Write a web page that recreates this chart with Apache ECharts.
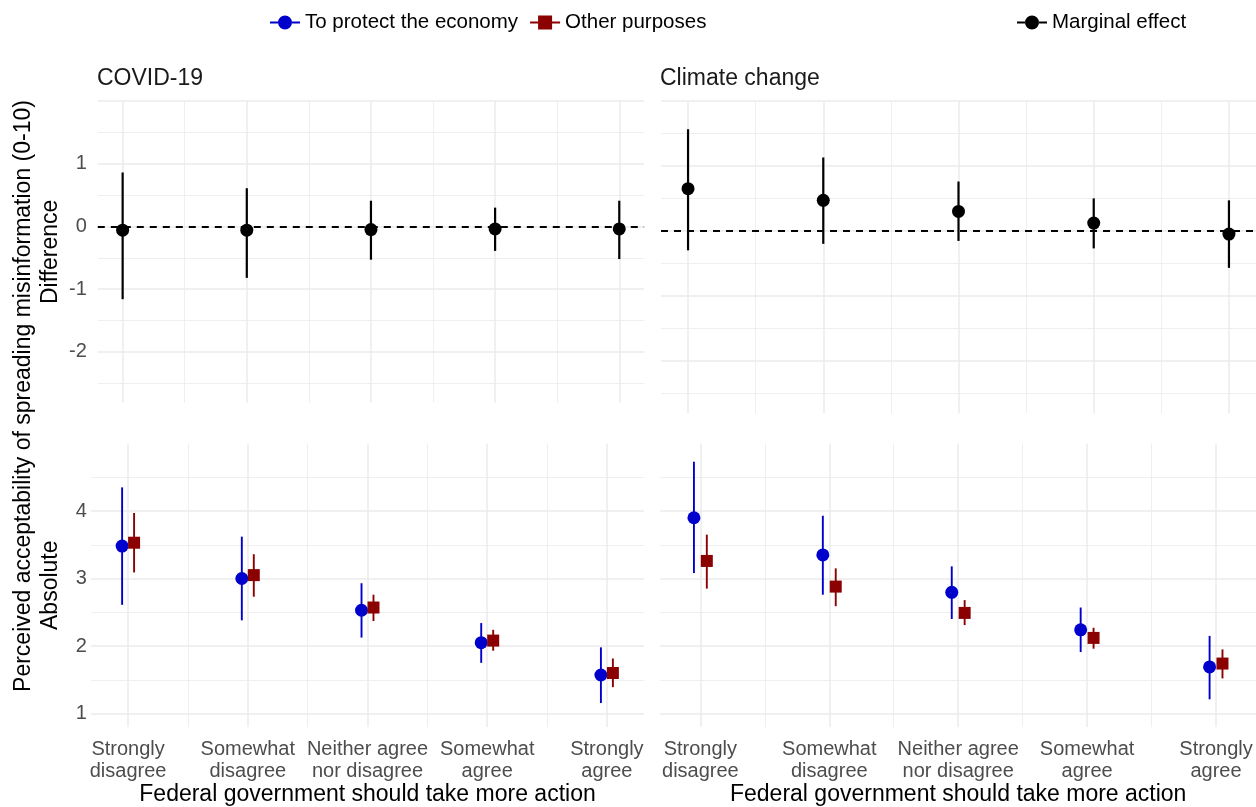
<!DOCTYPE html>
<html>
<head>
<meta charset="utf-8">
<script src="https://cdn.jsdelivr.net/npm/echarts@6/dist/echarts.min.js"></script>
<style>html,body{margin:0;padding:0;background:#fff}#c{width:1256px;height:807px}</style>
</head>
<body>
<div id="c"></div>
<script>
// ---------- data ----------
const categories = ['Strongly\ndisagree', 'Somewhat\ndisagree', 'Neither agree\nnor disagree', 'Somewhat\nagree', 'Strongly\nagree'];
const panelTitles = ['COVID-19', 'Climate change'];
const xTitle = 'Federal government should take more action';
const outerYTitle = 'Perceived acceptability of spreading misinformation (0-10)';
const seriesNames = ['To protect the economy', 'Other purposes', 'Marginal effect'];

// Difference (marginal effect)
const covidDiff = [-0.06, -0.06, -0.05, -0.04, -0.04];
const covidDiffLo = [-1.16, -0.82, -0.53, -0.39, -0.52];
const covidDiffHi = [0.86, 0.61, 0.41, 0.30, 0.41];
const climateDiff = [0.65, 0.47, 0.30, 0.12, -0.05];
const climateDiffLo = [-0.30, -0.20, -0.155, -0.27, -0.57];
const climateDiffHi = [1.565, 1.13, 0.76, 0.50, 0.47];

// Absolute
const covidEcon = [3.48, 3.00, 2.53, 2.05, 1.57];
const covidEconLo = [2.61, 2.38, 2.125, 1.75, 1.155];
const covidEconHi = [4.35, 3.62, 2.93, 2.34, 1.98];
const covidOther = [3.53, 3.05, 2.57, 2.08, 1.60];
const covidOtherLo = [3.09, 2.73, 2.37, 1.93, 1.39];
const covidOtherHi = [3.97, 3.36, 2.76, 2.24, 1.815];
const climateEcon = [3.90, 3.35, 2.795, 2.24, 1.69];
const climateEconLo = [3.08, 2.76, 2.40, 1.91, 1.21];
const climateEconHi = [4.73, 3.93, 3.18, 2.57, 2.15];
const climateOther = [3.26, 2.88, 2.49, 2.12, 1.74];
const climateOtherLo = [2.85, 2.59, 2.31, 1.96, 1.52];
const climateOtherHi = [3.65, 3.15, 2.68, 2.27, 1.95];

// ticks / grid breaks
const diffTickLabels = [-2, -1, 0, 1];
const diffMajorBreaks = [-2, -1, 0, 1, 2];
const diffMinorBreaks = [-2.5, -1.5, -0.5, 0.5, 1.5];
const absTickLabels = [1, 2, 3, 4];
const absMajorBreaks = [1, 2, 3, 4];
const absMinorBreaks = [1.5, 2.5, 3.5, 4.5];
const xMajorBreaks = [1, 2, 3, 4, 5];
const xMinorBreaks = [1.5, 2.5, 3.5, 4.5];
const zeroLine = [0];

// ---------- styling ----------
const FONT = '"Liberation Sans", Arial, sans-serif';
const BLUE = '#0000CD', RED = '#8B0000', BLACK = '#000000';
const GRID_COLOR = '#EBEBEB';
const DODGE = 0.05;

const circIcon = 'path://M0,6H8V8H0Z M22,6H30V8H22Z M8,7A7,7 0 1 1 22,7A7,7 0 1 1 8,7Z';
const sqIcon = 'path://M0,6H8V8H0Z M22,6H30V8H22Z M8,0H22V14H8Z';

function errRender(color, width) {
  return function (params, api) {
    const x = api.value(0), lo = api.value(1), hi = api.value(2);
    const p1 = api.coord([x, lo]);
    const p2 = api.coord([x, hi]);
    return { type: 'line', shape: { x1: p1[0], y1: p1[1], x2: p2[0], y2: p2[1] },
      style: { stroke: color, lineWidth: width } };
  };
}

function gridLines(g, yMajor, yMinor, dashed) {
  const data = [];
  yMinor.forEach(v => data.push({ yAxis: v, lineStyle: { color: GRID_COLOR, width: 0.8, type: 'solid' } }));
  xMinorBreaks.forEach(v => data.push({ xAxis: v, lineStyle: { color: GRID_COLOR, width: 0.8, type: 'solid' } }));
  yMajor.forEach(v => data.push({ yAxis: v, lineStyle: { color: GRID_COLOR, width: 1.5, type: 'solid' } }));
  xMajorBreaks.forEach(v => data.push({ xAxis: v, lineStyle: { color: GRID_COLOR, width: 1.5, type: 'solid' } }));
  if (dashed) zeroLine.forEach(v => data.push({ yAxis: v, lineStyle: { color: BLACK, width: 2, type: [7, 6] } }));
  return {
    type: 'line', xAxisIndex: g, yAxisIndex: g, data: [], z: 1, silent: true,
    markLine: { silent: true, z: 1, symbol: ['none', 'none'], label: { show: false },
      emphasis: { disabled: true }, animation: false, data: data }
  };
}

function rangeSeries(name, g, vals, lo, hi, offset, color, width, symbol, size) {
  const errData = vals.map((v, i) => [i + 1 + offset, lo[i], hi[i]]);
  const ptData = vals.map((v, i) => [i + 1 + offset, v]);
  return [
    { name: name, type: 'custom', xAxisIndex: g, yAxisIndex: g, z: 6,
      itemStyle: { color: color }, renderItem: errRender(color, width),
      encode: { x: 0, y: [1, 2] }, data: errData, silent: true },
    { name: name, type: 'scatter', xAxisIndex: g, yAxisIndex: g, z: 7,
      symbol: symbol, symbolSize: size, itemStyle: { color: color, opacity: 1 },
      data: ptData, silent: true }
  ];
}

const tickLabelStyle = { color: '#4D4D4D', fontSize: 20, fontFamily: FONT };
const titleStyle = { color: '#000', fontSize: 23, fontFamily: FONT };

const grids = [
  { left: 97.8, top: 101, width: 546.3, height: 301.7 },   // top-left
  { left: 661, top: 101, width: 595, height: 312.3 },      // top-right
  { left: 91, top: 443.5, width: 553, height: 288.3 },     // bottom-left
  { left: 660.4, top: 443.5, width: 595.6, height: 288.3 } // bottom-right
];

function xAxisFor(g, bottom) {
  const ax = {
    type: 'value', gridIndex: g,
    min: bottom ? 0.69 : 0.8, max: bottom ? 5.31 : 5.2,
    axisLine: { show: false }, axisTick: { show: false }, splitLine: { show: false },
    axisLabel: { show: false }
  };
  if (bottom) {
    ax.axisLabel = Object.assign({ show: true, customValues: xMajorBreaks, margin: 11, lineHeight: 22,
      formatter: v => categories[Math.round(v) - 1] }, tickLabelStyle);
    ax.name = xTitle;
    ax.nameLocation = 'middle';
    ax.nameGap = 56;
    ax.nameTextStyle = titleStyle;
  }
  return ax;
}

function yAxisFor(g, top, left) {
  const ax = {
    type: 'value', gridIndex: g,
    min: top ? -2.81 : 0.8, max: top ? 2.0 : 5.0,
    axisLine: { show: false }, axisTick: { show: false }, splitLine: { show: false },
    axisLabel: { show: false }
  };
  if (left) {
    ax.axisLabel = Object.assign({ show: true, customValues: top ? diffTickLabels : absTickLabels,
      margin: 11 - (g === 2 ? 6.8 : 0) }, tickLabelStyle);
    ax.name = top ? 'Difference' : 'Absolute';
    ax.nameLocation = 'middle';
    ax.nameRotate = 90;
    ax.nameGap = top ? 36 : 29;
    ax.nameTextStyle = titleStyle;
  }
  return ax;
}

const series = [];
// top panels: marginal effect
series.push(gridLines(0, diffMajorBreaks, diffMinorBreaks, true));
series.push(...rangeSeries(seriesNames[2], 0, covidDiff, covidDiffLo, covidDiffHi, 0, BLACK, 2.2, 'circle', 13));
series.push(gridLines(1, diffMajorBreaks, diffMinorBreaks, true));
series.push(...rangeSeries(seriesNames[2], 1, climateDiff, climateDiffLo, climateDiffHi, 0, BLACK, 2.2, 'circle', 13));
// bottom panels: absolute
series.push(gridLines(2, absMajorBreaks, absMinorBreaks, false));
series.push(...rangeSeries(seriesNames[0], 2, covidEcon, covidEconLo, covidEconHi, -DODGE, BLUE, 1.9, 'circle', 13));
series.push(...rangeSeries(seriesNames[1], 2, covidOther, covidOtherLo, covidOtherHi, DODGE, RED, 1.9, 'rect', 12));
series.push(gridLines(3, absMajorBreaks, absMinorBreaks, false));
series.push(...rangeSeries(seriesNames[0], 3, climateEcon, climateEconLo, climateEconHi, -DODGE, BLUE, 1.9, 'circle', 13));
series.push(...rangeSeries(seriesNames[1], 3, climateOther, climateOtherLo, climateOtherHi, DODGE, RED, 1.9, 'rect', 12));

const legendText = { color: '#000', fontSize: 20.5, fontFamily: FONT };

const option = {
  animation: false,
  textStyle: { fontFamily: FONT },
  title: [
    { text: panelTitles[0], left: 97, top: 67, padding: 0,
      textStyle: { fontSize: 23, fontWeight: 'normal', color: '#1A1A1A', fontFamily: FONT } },
    { text: panelTitles[1], left: 660, top: 67, padding: 0,
      textStyle: { fontSize: 23, fontWeight: 'normal', color: '#1A1A1A', fontFamily: FONT } }
  ],
  legend: [
    { left: 270, top: 12, padding: 0, itemWidth: 30, itemHeight: 14, itemGap: 12,
      selectedMode: false, textStyle: legendText,
      data: [
        { name: seriesNames[0], icon: circIcon, itemStyle: { color: BLUE } },
        { name: seriesNames[1], icon: sqIcon, itemStyle: { color: RED } }
      ] },
    { left: 1017, top: 12, padding: 0, itemWidth: 30, itemHeight: 14,
      selectedMode: false, textStyle: legendText,
      data: [ { name: seriesNames[2], icon: circIcon, itemStyle: { color: BLACK } } ] }
  ],
  grid: grids,
  xAxis: [xAxisFor(0, false), xAxisFor(1, false), xAxisFor(2, true), xAxisFor(3, true)],
  yAxis: [yAxisFor(0, true, true), yAxisFor(1, true, false), yAxisFor(2, false, true), yAxisFor(3, false, false)],
  graphic: [
    { type: 'text', x: 24, y: 396, rotation: Math.PI / 2, silent: true,
      style: { text: outerYTitle, fill: '#000', fontSize: 23, fontFamily: FONT,
        align: 'center', verticalAlign: 'middle' } }
  ],
  series: series
};

const chart = echarts.init(document.getElementById('c'), null, { renderer: 'canvas' });
chart.setOption(option);
</script>
</body>
</html>
